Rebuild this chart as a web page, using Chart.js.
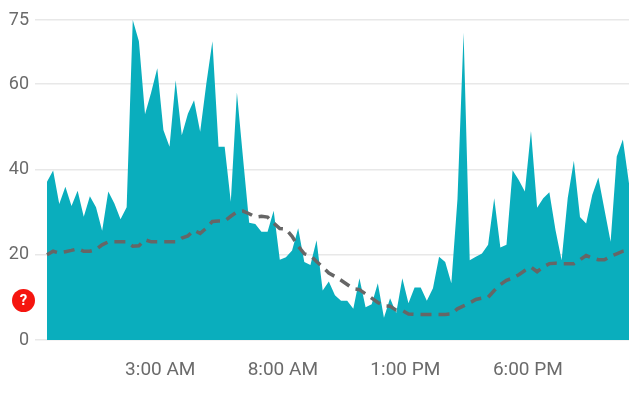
<!DOCTYPE html>
<html>
<head>
<meta charset="utf-8">
<title>Chart</title>
<script src="https://cdn.jsdelivr.net/npm/chart.js@4/dist/chart.umd.min.js"></script>
<style>
  html, body { margin: 0; padding: 0; background: #fff; }
  #wrap { position: relative; width: 640px; height: 393px; overflow: hidden; }
  canvas { display: block; }
  .help-badge {
    position: absolute; left: 12px; top: 289px; width: 23px; height: 23px;
    border-radius: 50%; background: #f5150f; color: #fff;
    font: 700 15px/23px Roboto, sans-serif; text-align: center;
  }
</style>
</head>
<body>
<div id="wrap">
  <canvas id="chart" width="640" height="393"></canvas>
  <div class="help-badge">?</div>
</div>
<script>
/* quarter-hour samples across one day */
const times = [
  "10:30 PM","10:45 PM","11:00 PM","11:15 PM","11:30 PM","11:45 PM",
  "12:00 AM","12:15 AM","12:30 AM","12:45 AM","1:00 AM","1:15 AM",
  "1:30 AM","1:45 AM","2:00 AM","2:15 AM","2:30 AM","2:45 AM",
  "3:00 AM","3:15 AM","3:30 AM","3:45 AM","4:00 AM","4:15 AM",
  "4:30 AM","4:45 AM","5:00 AM","5:15 AM","5:30 AM","5:45 AM",
  "6:00 AM","6:15 AM","6:30 AM","6:45 AM","7:00 AM","7:15 AM",
  "7:30 AM","7:45 AM","8:00 AM","8:15 AM","8:30 AM","8:45 AM",
  "9:00 AM","9:15 AM","9:30 AM","9:45 AM","10:00 AM","10:15 AM",
  "10:30 AM","10:45 AM","11:00 AM","11:15 AM","11:30 AM","11:45 AM",
  "12:00 PM","12:15 PM","12:30 PM","12:45 PM","1:00 PM","1:15 PM",
  "1:30 PM","1:45 PM","2:00 PM","2:15 PM","2:30 PM","2:45 PM",
  "3:00 PM","3:15 PM","3:30 PM","3:45 PM","4:00 PM","4:15 PM",
  "4:30 PM","4:45 PM","5:00 PM","5:15 PM","5:30 PM","5:45 PM",
  "6:00 PM","6:15 PM","6:30 PM","6:45 PM","7:00 PM","7:15 PM",
  "7:30 PM","7:45 PM","8:00 PM","8:15 PM","8:30 PM","8:45 PM",
  "9:00 PM","9:15 PM","9:30 PM","9:45 PM","10:00 PM","10:15 PM",
];

const actual = [
  37.1, 39.7, 31.9, 35.9, 31.4, 35, 28.9, 33.7, 31.1, 25.6, 34.8, 32,
  28.3, 31.1, 75, 70, 52.9, 58, 63.7, 49.2, 45.3, 60.9, 48, 53,
  56.2, 48.8, 60, 70, 45.3, 45.3, 32.4, 58, 42.6, 27.5, 27.2, 25.4,
  25.4, 30.3, 18.8, 19.4, 21, 26.2, 18.3, 17.6, 23.4, 11.6, 13.7, 10.5,
  9.2, 9.2, 7.3, 14.5, 7.7, 8.4, 13.3, 5.2, 9.8, 6.3, 14.5, 8.6,
  12.3, 12.3, 9.2, 12.1, 19.5, 18.3, 13.3, 33, 72, 18.7, 19.5, 20.3,
  22.3, 33.2, 21.7, 22.3, 39.8, 37.5, 34.8, 49, 31, 33.2, 34.6, 25.8,
  18.7, 33.3, 42, 28.8, 27.3, 34, 38.1, 30.5, 23, 43, 47, 36.7,
];

const typical = [
  20, 20.8, 20.4, 20.7, 21, 21.4, 20.8, 20.8, 21.2, 22.3, 23, 23,
  23, 23, 22, 22.1, 23.5, 23, 23, 23, 23, 23, 23.9, 24.4,
  25.7, 25, 26.2, 27.8, 27.9, 27.9, 29, 30, 30.2, 29.6, 28.8, 29,
  28.8, 27.4, 26.1, 26, 24.3, 22, 20.2, 19.8, 18.4, 17.1, 15.7, 14.9,
  14, 13, 12, 11.8, 10.8, 9.8, 8.8, 8, 7.9, 7, 6.9, 6.1,
  6, 6, 6, 6, 6, 6, 6.1, 7.3, 8, 8.7, 9.5, 9.8,
  10, 11.6, 13, 14, 14.5, 15.3, 16.3, 17.1, 16, 17.1, 17.9, 18,
  17.9, 17.9, 17.9, 18.8, 19.8, 19.2, 18.8, 18.8, 19.6, 20.2, 20.8, 21,
];

const xTickLabels = ["3:00 AM", "8:00 AM", "1:00 PM", "6:00 PM"];
const yTickValues = [0, 20, 40, 60, 75];

const labelColor = "#6b6b6b";

new Chart(document.getElementById("chart"), {
  type: "line",
  data: {
    labels: times,
    datasets: [
      {
        label: "Typical",
        data: typical,
        borderColor: "#666666",
        borderWidth: 3.5,
        borderDash: [11, 7],
        pointRadius: 0,
        tension: 0,
        fill: false,
        order: 1,
      },
      {
        label: "Actual",
        data: actual,
        borderWidth: 0,
        backgroundColor: "#0aaebd",
        pointRadius: 0,
        tension: 0,
        fill: "origin",
        order: 2,
      },
    ],
  },
  options: {
    responsive: false,
    animation: false,
    layout: { padding: { top: 20, right: 10 } },
    plugins: { legend: { display: false }, tooltip: { enabled: false } },
    scales: {
      x: {
        offset: false,
        grid: { display: false },
        border: { display: false },
        afterFit: (scale) => { scale.height = 53; },
        ticks: {
          autoSkip: false,
          maxRotation: 0,
          padding: 11,
          labelOffset: 3,
          font: { family: "Roboto", size: 19 },
          color: labelColor,
          callback: function (v) {
            const t = this.getLabelForValue(v);
            return xTickLabels.includes(t) ? t : "";
          },
        },
      },
      y: {
        min: 0,
        max: 75,
        afterBuildTicks: (scale) => { scale.ticks = yTickValues.map((value) => ({ value })); },
        afterFit: (scale) => { scale.width = 47; },
        grid: { color: "#e8e8e8", lineWidth: 1.5, tickLength: 12 },
        border: { display: false },
        ticks: { padding: 6, font: { family: "Roboto", size: 18 }, color: labelColor },
      },
    },
  },
});
</script>
</body>
</html>
